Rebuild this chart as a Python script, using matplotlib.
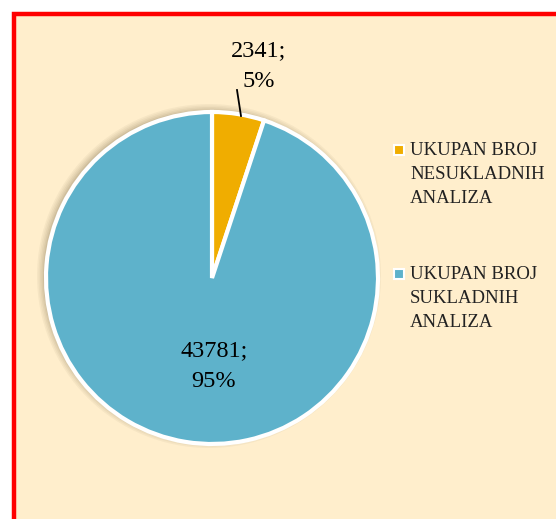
import matplotlib.pyplot as plt
from matplotlib.patches import Rectangle, Circle

# ------------------------------------------------------------
# Data
# ------------------------------------------------------------
categories = ["UKUPAN BROJ\nNESUKLADNIH\nANALIZA", "UKUPAN BROJ\nSUKLADNIH\nANALIZA"]
values = [2341, 43781]
colors = ["#F0AD00", "#5EB2CB"]

W, H = 556, 519
bg = "#FFEECC"

fig = plt.figure(figsize=(W / 100, H / 100), dpi=100)
ax = fig.add_axes([0, 0, 1, 1])
ax.set_xlim(0, W)
ax.set_ylim(0, H)
ax.set_aspect("equal")
ax.axis("off")

# chart area with red frame (cut off at right/bottom)
ax.add_patch(Rectangle((13.5, -10), W + 20, H - 13.5 + 10, facecolor=bg,
                       edgecolor="#FF0000", lw=3.2, zorder=0))

cx, cy, r = 212, H - 278, 166

# soft shadow around the pie
for i, a in enumerate([0.05, 0.05, 0.06, 0.07, 0.09]):
    ax.add_patch(Circle((cx - 3, cy + 2), r + 6 - i * 1.5, color="#5a4a2a",
                        alpha=a, lw=0, zorder=1))

total = sum(values)
pcts = [round(v / total * 100) for v in values]

wedges, _ = ax.pie(values, colors=colors, startangle=90, counterclock=False,
                   center=(cx, cy), radius=r, frame=True,
                   wedgeprops=dict(edgecolor="white", linewidth=3))
for w in wedges:
    w.set_zorder(2)
ax.set_xlim(0, W)
ax.set_ylim(0, H)
ax.axis("off")

font = "Liberation Serif"
ax.text(259, H - 66, f"{values[0]};\n{pcts[0]}%", ha="center", va="center",
        fontsize=17.5, family=font, linespacing=1.6, zorder=3)
ax.plot([237, 241], [H - 90, H - 116], color="black", lw=1.3, zorder=3)
ax.text(214, H - 366, f"{values[1]};\n{pcts[1]}%", ha="center", va="center",
        fontsize=17.5, family=font, linespacing=1.6, zorder=3)

# legend
for lab, col, ty in zip(categories, colors, [150, 274]):
    ax.add_patch(Rectangle((394, H - ty - 5), 10, 10, facecolor=col,
                           edgecolor="white", lw=1.5, zorder=3))
    ax.text(410, H - ty + 8, lab, ha="left", va="top", fontsize=13.5,
            family=font, linespacing=1.55, color="#222222", zorder=3)

plt.savefig("out.png", dpi=100, facecolor="white")
